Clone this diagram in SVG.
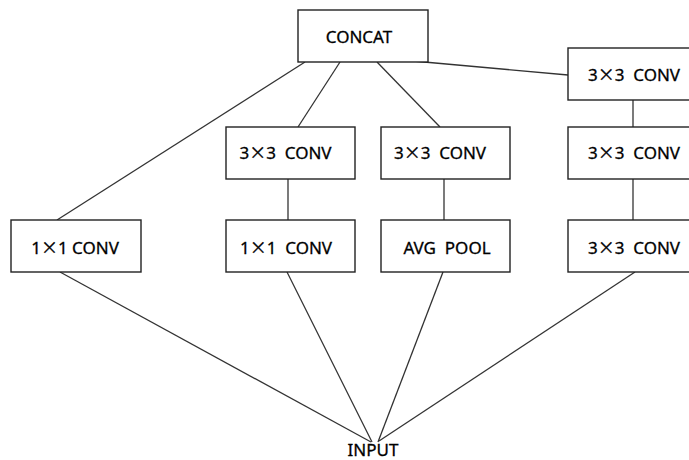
<svg xmlns="http://www.w3.org/2000/svg" width="689" height="460" viewBox="0 0 689 460">
<style>
.box{fill:#fff;stroke:#222;stroke-width:1.4}
.ln{stroke:#333;stroke-width:1.3;fill:none}
text{font-family:"Noto Sans","DejaVu Sans",sans-serif;font-size:17px;fill:#000;stroke:#000;stroke-width:0.3;text-anchor:middle}
.x{font-family:"Noto Sans CJK JP","Noto Sans",sans-serif}
</style>
<rect width="689" height="460" fill="#fff"/>
<g id="connectors">
<line class="ln" x1="305" y1="62" x2="57" y2="220"/>
<line class="ln" x1="340" y1="62" x2="298" y2="127"/>
<line class="ln" x1="377" y1="62" x2="440" y2="127"/>
<line class="ln" x1="413" y1="61" x2="568" y2="75"/>
<line class="ln" x1="288" y1="179" x2="288" y2="220"/>
<line class="ln" x1="444" y1="179" x2="444" y2="220"/>
<line class="ln" x1="633" y1="99" x2="633" y2="127"/>
<line class="ln" x1="633" y1="179" x2="633" y2="220"/>
<line class="ln" x1="60" y1="272" x2="371" y2="442"/>
<line class="ln" x1="287" y1="272" x2="372" y2="442"/>
<line class="ln" x1="443" y1="272" x2="378" y2="442"/>
<line class="ln" x1="635" y1="272" x2="379" y2="441"/>
</g>
<g id="concat"><rect class="box" x="298" y="10" width="130" height="52"/><text x="359" y="42.5">CONCAT</text></g>
<g id="c1_1x1"><rect class="box" x="11" y="220" width="130" height="52"/><text x="75" y="254.3" xml:space="preserve">1<tspan class="x">×</tspan>1 CONV</text></g>
<g id="c2_3x3"><rect class="box" x="226" y="127" width="129" height="52"/><text x="285.5" y="159.3" xml:space="preserve">3<tspan class="x">×</tspan>3  CONV</text></g>
<g id="c2_1x1"><rect class="box" x="226" y="220" width="129" height="52"/><text x="286" y="254.3" xml:space="preserve">1<tspan class="x">×</tspan>1  CONV</text></g>
<g id="c3_3x3"><rect class="box" x="381" y="127" width="129" height="52"/><text x="440" y="159.3" xml:space="preserve">3<tspan class="x">×</tspan>3  CONV</text></g>
<g id="c3_pool"><rect class="box" x="381" y="220" width="129" height="52"/><text x="447" y="254.3" xml:space="preserve">AVG  POOL</text></g>
<g id="c4_a"><rect class="box" x="568" y="48" width="131" height="52"/><text x="634" y="81" xml:space="preserve">3<tspan class="x">×</tspan>3  CONV</text></g>
<g id="c4_b"><rect class="box" x="568" y="127" width="131" height="52"/><text x="634" y="159.3" xml:space="preserve">3<tspan class="x">×</tspan>3  CONV</text></g>
<g id="c4_c"><rect class="box" x="568" y="220" width="131" height="52"/><text x="634" y="254.3" xml:space="preserve">3<tspan class="x">×</tspan>3  CONV</text></g>
<g id="input"><text x="373" y="456">INPUT</text></g>
</svg>
